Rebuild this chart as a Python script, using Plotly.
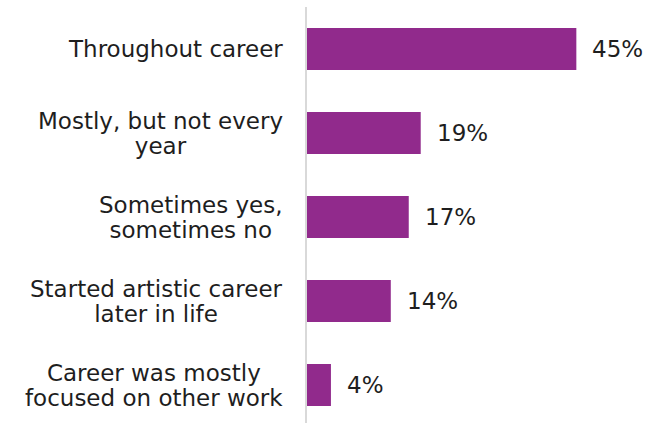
import plotly.graph_objects as go

# Survey answers (top to bottom) and their shares in percent
categories = [
    "Throughout career",
    "Mostly, but not every<br>year",
    "Sometimes yes,<br>sometimes no",
    "Started artistic career<br>later in life",
    "Career was mostly<br>focused on other work",
]
values = [45, 19, 17, 14, 4]
value_labels = ["45%", "19%", "17%", "14%", "4%"]

BAR_COLOR = "#912A8C"
TEXT_COLOR = "#1e1e1e"
FONT = "DejaVu Sans"
FONT_SIZE = 23
# base size of the annotation sets the line pitch (1.3 x size); glyphs drawn larger
LINE_BASE = 19


def sized(text, px):
    return f'<span style="font-size:{px}px">' + text.replace(
        "<br>", f'</span><br><span style="font-size:{px}px">') + "</span>"


fig = go.Figure(
    go.Bar(
        x=values,
        y=categories,
        orientation="h",
        marker=dict(color=BAR_COLOR, line=dict(width=0)),
        hoverinfo="skip",
    )
)

annotations = []
# category labels, centred line by line, right edge left of the axis line
for cat in categories:
    annotations.append(dict(
        x=0, xref="paper", y=cat, yref="y",
        text=sized(cat, FONT_SIZE), showarrow=False,
        xanchor="right", yanchor="middle", align="center",
        xshift=-22,
        font=dict(family=FONT, size=LINE_BASE, color=TEXT_COLOR),
    ))
# value labels just past the end of each bar
for cat, v, lab in zip(categories, values, value_labels):
    annotations.append(dict(
        x=v, xref="x", y=cat, yref="y",
        text=lab, showarrow=False,
        xanchor="left", yanchor="middle",
        xshift=14,
        font=dict(family=FONT, size=FONT_SIZE, color=TEXT_COLOR),
    ))

fig.update_layout(
    width=652,
    height=423,
    margin=dict(l=307, r=20, t=7, b=0),
    paper_bgcolor="white",
    plot_bgcolor="white",
    bargap=0.5,
    showlegend=False,
    annotations=annotations,
    xaxis=dict(
        range=[0, 54.3],
        visible=False,
        showgrid=False,
        zeroline=False,
    ),
    yaxis=dict(
        type="category",
        categoryorder="array",
        categoryarray=categories,
        range=[4.452, -0.5],
        showticklabels=False,
        ticks="",
        showgrid=False,
        zeroline=False,
        showline=True,
        linecolor="#d9d9d9",
        linewidth=2,
    ),
)

fig.write_html("out.html")
